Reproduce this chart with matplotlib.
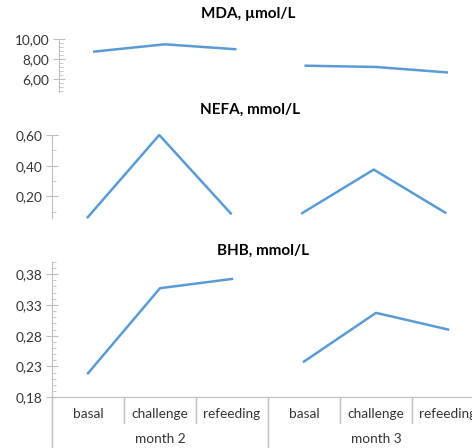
import numpy as np
import matplotlib
matplotlib.use("Agg")
import matplotlib.pyplot as plt
from matplotlib.ticker import FixedLocator, MultipleLocator, FuncFormatter
from matplotlib import transforms

plt.rcParams['font.family'] = ['Lato', 'DejaVu Sans']

categories = ['basal', 'challenge', 'refeeding']
months = ['month 2', 'month 3']

mda_m2 = [8.74, 9.47, 8.98]
mda_m3 = [7.33, 7.20, 6.66]
nefa_m2 = [0.065, 0.60, 0.09]
nefa_m3 = [0.092, 0.375, 0.095]
bhb_m2 = [0.219, 0.357, 0.372]
bhb_m3 = [0.238, 0.317, 0.290]

titles = ['MDA, \u00b5mol/L', 'NEFA, mmol/L', 'BHB, mmol/L']

W, H = 472, 448
blue = '#5B9BD5'
grey = '#BFBFBF'
txt = '#333333'

fig = plt.figure(figsize=(W / 100, H / 100), dpi=100)


def make_ax(left, top, bottom, cat_w=72):
    # pixel box -> figure fraction, right edge at figure edge
    w = W - left
    ax = fig.add_axes([left / W, 1 - bottom / H, w / W, (bottom - top) / H])
    ax.set_xlim(-0.5, -0.5 + w / cat_w)
    for s in ['top', 'right', 'bottom']:
        ax.spines[s].set_visible(False)
    ax.spines['left'].set_color(grey)
    ax.set_xticks([])
    ax.tick_params(axis='y', which='major', direction='inout', length=8,
                   color=grey, labelsize=9.8, labelcolor=txt, pad=3)
    ax.tick_params(axis='y', which='minor', direction='in', length=3, color=grey)
    ax.yaxis.set_major_formatter(FuncFormatter(lambda v, p: f"{v:.2f}".replace('.', ',')))
    ax.patch.set_alpha(0)
    return ax


def draw(ax, m2, m3):
    x = np.arange(len(categories))
    ax.plot(x, m2, color=blue, lw=1.8, clip_on=False)
    ax.plot(x + len(categories), m3, color=blue, lw=1.8, clip_on=False)


# MDA
ax1 = make_ax(59, 39, 92, cat_w=70.5)
ax1.set_ylim(4.7, 10.0)
ax1.yaxis.set_major_locator(FixedLocator([6, 8, 10]))
ax1.yaxis.set_minor_locator(MultipleLocator(0.4))
draw(ax1, mda_m2, mda_m3)

# NEFA
ax2 = make_ax(52, 135, 218, cat_w=71.5)
ax2.set_ylim(0.06, 0.60)
ax2.yaxis.set_major_locator(FixedLocator([0.2, 0.4, 0.6]))
ax2.yaxis.set_minor_locator(FixedLocator([0.1, 0.3, 0.5]))
draw(ax2, nefa_m2, nefa_m3)

# BHB
ax3 = make_ax(52, 261.7, 397.3, cat_w=72)
ax3.set_ylim(0.18, 0.40)
ax3.yaxis.set_major_locator(FixedLocator([0.18, 0.23, 0.28, 0.33, 0.38]))
ax3.yaxis.set_minor_locator(MultipleLocator(0.01))
ax3.spines['bottom'].set_visible(True)
ax3.spines['bottom'].set_color(grey)
draw(ax3, bhb_m2, bhb_m3)

# category table under the bottom chart
tr = transforms.blended_transform_factory(ax3.transData, fig.transFigure)
y0 = 1 - 397.3 / H
y_cat = 1 - 423 / H
n = len(categories) * len(months)
for i in range(1, n):
    lo = 0 if i % len(categories) == 0 else y_cat
    ax3.plot([i - 0.5, i - 0.5], [y0, lo], color=grey, lw=1, transform=tr, clip_on=False)
ax3.plot([-0.5, -0.5], [y0, 0], color=grey, lw=1, transform=tr, clip_on=False)
for j, m in enumerate(months):
    for k, c in enumerate(categories):
        ax3.text(j * len(categories) + k, 1 - 414 / H, c, transform=tr,
                 ha='center', va='center', fontsize=9.8, color=txt)
    ax3.text(j * len(categories) + 1, 1 - 439 / H, m, transform=tr,
             ha='center', va='center', fontsize=9.8, color=txt)

# titles
for t, xc, yc in zip(titles, [248, 250, 263], [14, 110, 251]):
    fig.text(xc / W, 1 - yc / H, t, ha='center', va='center',
             fontsize=11, fontweight='bold', color='black')

fig.savefig('out.png', dpi=100)
